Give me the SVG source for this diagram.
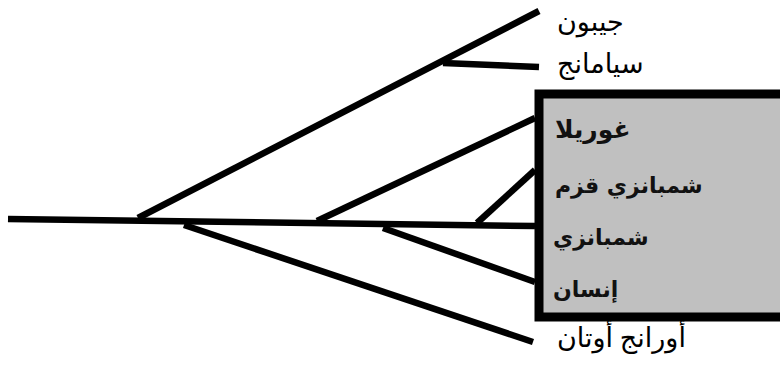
<svg xmlns="http://www.w3.org/2000/svg" width="780" height="374" viewBox="0 0 780 374">
  <style>
    .ln { stroke: #000; stroke-width: 6.5; stroke-linecap: butt; fill: none; }
    .lbl { font-family: "Liberation Serif", "DejaVu Sans", serif; font-size: 27px; fill: #000; }
    .blbl { font-family: "DejaVu Sans", sans-serif; font-size: 22px; font-weight: bold; fill: #111; }
  </style>
  <rect width="780" height="374" fill="#fff"/>
  <g id="box">
    <rect x="539" y="94" width="250" height="223" fill="#c0c0c0" stroke="#000" stroke-width="9"/>
  </g>
  <g id="connectors">
    <line class="ln" x1="8" y1="219" x2="535" y2="226"/>
    <line class="ln" x1="138" y1="218" x2="539" y2="11"/>
    <line class="ln" x1="443" y1="63" x2="539" y2="67"/>
    <line class="ln" x1="317" y1="221" x2="535" y2="118"/>
    <line class="ln" x1="477" y1="223" x2="535" y2="170"/>
    <line class="ln" x1="383" y1="228" x2="535" y2="282"/>
    <line class="ln" x1="184" y1="225" x2="533" y2="342"/>
  </g>
  <g id="gibbon"><text class="lbl" x="557" y="31">جيبون</text></g>
  <g id="siamang"><text class="lbl" x="557" y="73">سيامانج</text></g>
  <g id="gorilla"><text class="blbl" x="555" y="138" style="font-size:25px">غوريلا</text></g>
  <g id="pygmy-chimp"><text class="blbl" x="555" y="193">شمبانزي قزم</text></g>
  <g id="chimp"><text class="blbl" x="553" y="245">شمبانزي</text></g>
  <g id="human"><text class="blbl" x="553" y="297">إنسان</text></g>
  <g id="orangutan"><text class="lbl" x="557" y="347">أورانج أوتان</text></g>
</svg>
